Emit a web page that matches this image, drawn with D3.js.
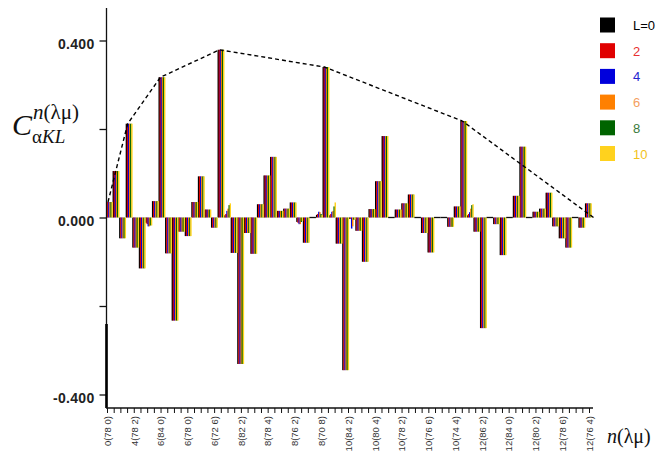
<!DOCTYPE html>
<html>
<head>
<meta charset="utf-8">
<script src="https://cdn.jsdelivr.net/npm/d3@7"></script>
<style>
body { margin: 0; background: #fff; }
svg { display: block; }
</style>
</head>
<body>
<svg class="chart"></svg>
<script>
// tick labels, one every 4th basis state
var tickLabels = ["0(78 0)", "4(78 2)", "6(84 0)", "6(78 0)", "6(72 6)", "8(82 2)", "8(78 4)",
    "8(76 2)", "8(70 8)", "10(84 2)", "10(80 4)", "10(78 2)", "10(76 6)", "10(74 4)",
    "12(86 2)", "12(84 0)", "12(80 2)", "12(78 6)", "12(76 4)"];

var seriesNames = ["L=0", "2", "4", "6", "8", "10"];
var seriesColors = ["#000000", "#e00000", "#0000dc", "#ff8000", "#006400", "#ffd21e"];
var legendTextColors = ["#000000", "#e83030", "#2525d0", "#f5a060", "#3a7a3a", "#f2c21a"];

// coefficient per basis state, one array per L
var L0 = [0.035, 0.105, -0.047, 0.212, -0.068, -0.115, -0.012, 0.037, 0.317, -0.081,
    -0.233, -0.032, -0.042, 0.035, 0.093, 0.018, -0.023, 0.379, 0.005, -0.08,
    -0.331, -0.035, -0.082, 0.03, 0.095, 0.137, 0.015, 0.02, 0.034, -0.01,
    -0.057, 0, 0.006, 0.34, 0.005, -0.059, -0.345, -0.003, -0.03, -0.1,
    0.019, 0.082, 0.184, 0, 0.018, 0.032, 0.052, 0, -0.035, -0.079,
    0, 0, -0.021, 0.025, 0.218, 0.005, -0.032, -0.25, 0, -0.015,
    -0.085, 0, 0.049, 0.16, 0, 0.013, 0.02, 0.056, -0.02, -0.047,
    -0.068, 0, -0.023, 0.032];
var L2 = [0.035, 0.105, -0.047, 0.212, -0.068, -0.115, -0.015, 0.037, 0.317, -0.081,
    -0.233, -0.032, -0.042, 0.035, 0.093, 0.018, -0.023, 0.379, 0.008, -0.08,
    -0.331, -0.035, -0.082, 0.03, 0.095, 0.137, 0.015, 0.02, 0.034, -0.012,
    -0.057, 0, 0.008, 0.34, 0.008, -0.059, -0.345, -0.003, -0.03, -0.1,
    0.019, 0.082, 0.184, 0, 0.018, 0.032, 0.052, 0, -0.035, -0.079,
    0, 0, -0.021, 0.025, 0.218, 0.008, -0.032, -0.25, 0, -0.015,
    -0.085, 0, 0.049, 0.16, 0, 0.013, 0.02, 0.056, -0.02, -0.047,
    -0.068, 0, -0.023, 0.032];
var L4 = [0.035, 0.105, -0.047, 0.212, -0.068, -0.115, -0.02, 0.037, 0.317, -0.081,
    -0.233, -0.032, -0.042, 0.035, 0.093, 0.018, -0.023, 0.379, 0.015, -0.08,
    -0.331, -0.035, -0.082, 0.03, 0.095, 0.137, 0.015, 0.02, 0.034, -0.015,
    -0.057, 0, 0.013, 0.34, 0.013, -0.059, -0.345, -0.025, -0.03, -0.1,
    0.019, 0.082, 0.184, 0, 0.018, 0.032, 0.052, 0, -0.035, -0.079,
    0, 0, -0.021, 0.025, 0.218, 0.012, -0.032, -0.25, 0, -0.015,
    -0.085, 0, 0.049, 0.16, 0, 0.013, 0.02, 0.056, -0.02, -0.047,
    -0.068, 0, -0.023, 0.032];
var L6 = [0.035, 0.105, -0.047, 0.212, -0.068, -0.115, -0.02, 0.037, 0.317, -0.081,
    -0.233, -0.032, -0.042, 0.035, 0.093, 0.018, -0.023, 0.379, 0.02, -0.08,
    -0.331, -0.035, -0.082, 0.03, 0.095, 0.137, 0.015, 0.02, 0.034, -0.015,
    -0.057, 0, 0.012, 0.34, 0.015, -0.059, -0.345, -0.02, -0.03, -0.1,
    0.019, 0.082, 0.184, 0, 0.018, 0.032, 0.052, 0, -0.035, -0.079,
    0, 0, -0.021, 0.025, 0.218, 0.02, -0.032, -0.25, 0, -0.015,
    -0.085, 0, 0.049, 0.16, 0, 0.013, 0.02, 0.056, -0.02, -0.047,
    -0.068, 0, -0.023, 0.032];
var L8 = [0.035, 0.105, -0.047, 0.212, -0.068, -0.115, -0.018, 0.037, 0.317, -0.081,
    -0.233, -0.032, -0.042, 0.035, 0.093, 0.018, -0.023, 0.379, 0.028, -0.08,
    -0.331, -0.035, -0.082, 0.03, 0.095, 0.137, 0.015, 0.02, 0.034, -0.01,
    -0.057, 0, 0.008, 0.34, 0.025, -0.059, -0.345, -0.005, -0.03, -0.1,
    0.019, 0.082, 0.184, 0, 0.018, 0.032, 0.052, 0, -0.035, -0.079,
    0, 0, -0.021, 0.025, 0.218, 0.028, -0.032, -0.25, 0, -0.015,
    -0.085, 0, 0.049, 0.16, 0, 0.013, 0.02, 0.056, -0.02, -0.047,
    -0.068, 0, -0.023, 0.032];
var L10 = [0.035, 0.105, -0.047, 0.212, -0.068, -0.115, -0.018, 0.037, 0.317, -0.081,
    -0.233, -0.032, -0.042, 0.035, 0.093, 0.018, -0.023, 0.379, 0.032, -0.08,
    -0.331, -0.035, -0.082, 0.03, 0.095, 0.137, 0.015, 0.02, 0.034, -0.008,
    -0.057, 0, 0.006, 0.34, 0.034, -0.059, -0.345, -0.005, -0.03, -0.1,
    0.019, 0.082, 0.184, 0, 0.018, 0.032, 0.052, 0, -0.035, -0.079,
    0, 0, -0.021, 0.025, 0.218, 0.03, -0.032, -0.25, 0, -0.015,
    -0.085, 0, 0.049, 0.16, 0, 0.013, 0.02, 0.056, -0.02, -0.047,
    -0.068, 0, -0.023, 0.032];

// dashed envelope through the main peaks (state index, value)
var envIdx = [0, 3, 8, 17, 33, 54, 74];
var envVal = [0.035, 0.212, 0.317, 0.379, 0.34, 0.218, 0];

var yTicks = [-0.4, -0.2, 0, 0.2, 0.4];

var series = [L0, L2, L4, L6, L8, L10];
var nStates = L0.length;

var width = 657, height = 462;
var svg = d3.select(".chart").attr("width", width).attr("height", height);

var y = d3.scaleLinear().domain([-0.4, 0.4]).range([394.5, 40.5]);
var xs = d3.scaleLinear().domain([0, nStates]).range([106, 591.5]);   // bar states
var xt = d3.scaleLinear().domain([0, 72]).range([107, 589]);          // axis ticks
var xsub = d3.scaleBand().domain(d3.range(series.length)).range([0, xs(1) - xs(0)]);

// bars
var groups = svg.append("g").selectAll("g")
    .data(series)
    .enter().append("g")
    .attr("fill", function(d, i) { return seriesColors[i]; });

groups.each(function(vals, si) {
    d3.select(this).selectAll("rect")
        .data(vals.map(function(v, i) { return { i: i, v: v }; }).filter(function(d) { return d.v !== 0; }))
        .enter().append("rect")
        .attr("x", function(d) { return xs(d.i) + xsub(si); })
        .attr("width", xsub.bandwidth() + 0.35)
        .attr("y", function(d) { return y(Math.max(0, d.v)); })
        .attr("height", function(d) { return Math.abs(y(d.v) - y(0)); });
});

// zero-valued states show as a short black line
svg.append("g").selectAll("line")
    .data(d3.range(nStates).filter(function(i) {
        return series.every(function(s) { return s[i] === 0; });
    }))
    .enter().append("line")
    .attr("x1", function(i) { return xs(i); })
    .attr("x2", function(i) { return xs(i + 1); })
    .attr("y1", y(0)).attr("y2", y(0))
    .attr("stroke", "#111").attr("stroke-width", 1.3);

// envelope
svg.append("path")
    .datum(envIdx.map(function(d, i) { return [d, envVal[i]]; }))
    .attr("fill", "none")
    .attr("stroke", "#000")
    .attr("stroke-width", 1.4)
    .attr("stroke-dasharray", "4,3")
    .attr("d", d3.line()
        .x(function(d) { return xs(d[0]) + 2; })
        .y(function(d) { return y(d[1]); }));

// y axis
var yAxis = svg.append("g")
    .attr("transform", "translate(106.5,0)")
    .call(d3.axisLeft(y).tickValues(yTicks).tickSize(7).tickPadding(5)
        .tickFormat(function(d) { return Math.abs(d) === 0.2 ? "" : d.toFixed(3); }));
yAxis.select(".domain").remove();
yAxis.selectAll("line").attr("stroke", "#111").attr("stroke-width", 1.3);
yAxis.selectAll("text")
    .attr("dy", "0.58em")
    .style("font-family", "'Liberation Sans', Arial, sans-serif")
    .style("font-size", "14px")
    .style("font-weight", "bold")
    .style("letter-spacing", "0.3px")
    .attr("fill", "#222");

svg.append("line")
    .attr("x1", 106.5).attr("x2", 106.5).attr("y1", 8).attr("y2", 408)
    .attr("stroke", "#111").attr("stroke-width", 1.3);
svg.append("line")
    .attr("x1", 106.5).attr("x2", 106.5).attr("y1", 324).attr("y2", 408)
    .attr("stroke", "#000").attr("stroke-width", 2.6);

// x axis
var xAxis = svg.append("g")
    .attr("transform", "translate(0,408)")
    .call(d3.axisBottom(xt).tickValues(d3.range(0, 73)).tickSize(5).tickPadding(4)
        .tickFormat(function(d) { return d % 4 === 0 ? tickLabels[d / 4] : ""; }));
xAxis.select(".domain").remove();
xAxis.selectAll("line").attr("stroke", "#111").attr("stroke-width", 1);
xAxis.selectAll("text")
    .attr("transform", "rotate(-90)")
    .attr("text-anchor", "end")
    .attr("x", -8)
    .attr("y", 0)
    .attr("dy", "0.35em")
    .style("font-family", "'Liberation Sans', Arial, sans-serif")
    .style("font-size", "9.5px")
    .attr("fill", "#333");
svg.append("line")
    .attr("x1", 106).attr("x2", 593).attr("y1", 408).attr("y2", 408)
    .attr("stroke", "#111").attr("stroke-width", 1.5);

// axis titles
var serif = "'Liberation Serif', 'Times New Roman', serif";
var yt = svg.append("g").style("font-family", serif).attr("fill", "#111");
yt.append("text").attr("x", 12).attr("y", 135).style("font-size", "30px")
    .style("font-style", "italic").text("C");
var sup = yt.append("text").attr("x", 33).attr("y", 119).style("font-size", "21px");
sup.append("tspan").style("font-style", "italic").text("n");
sup.append("tspan").text("(λμ)");
var sub = yt.append("text").attr("x", 32).attr("y", 143).style("font-size", "19px");
sub.append("tspan").text("α");
sub.append("tspan").style("font-style", "italic").text("KL");

var xtl = svg.append("text").attr("x", 607).attr("y", 443)
    .style("font-family", serif).style("font-size", "20px").attr("fill", "#111");
xtl.append("tspan").style("font-style", "italic").text("n");
xtl.append("tspan").text("(λμ)");

// legend
var legend = svg.append("g").selectAll("g")
    .data(seriesNames)
    .enter().append("g")
    .attr("transform", function(d, i) { return "translate(600," + (25 + i * 25.7) + ")"; });
legend.append("rect")
    .attr("x", 0).attr("y", -7.5).attr("width", 15).attr("height", 15)
    .attr("fill", function(d, i) { return seriesColors[i]; });
legend.append("text")
    .attr("x", 33)
    .attr("y", 5)
    .style("font-family", "'Liberation Sans', Arial, sans-serif")
    .style("font-size", "13px")
    .attr("fill", function(d, i) { return legendTextColors[i]; })
    .text(function(d) { return d; });
</script>
</body>
</html>
